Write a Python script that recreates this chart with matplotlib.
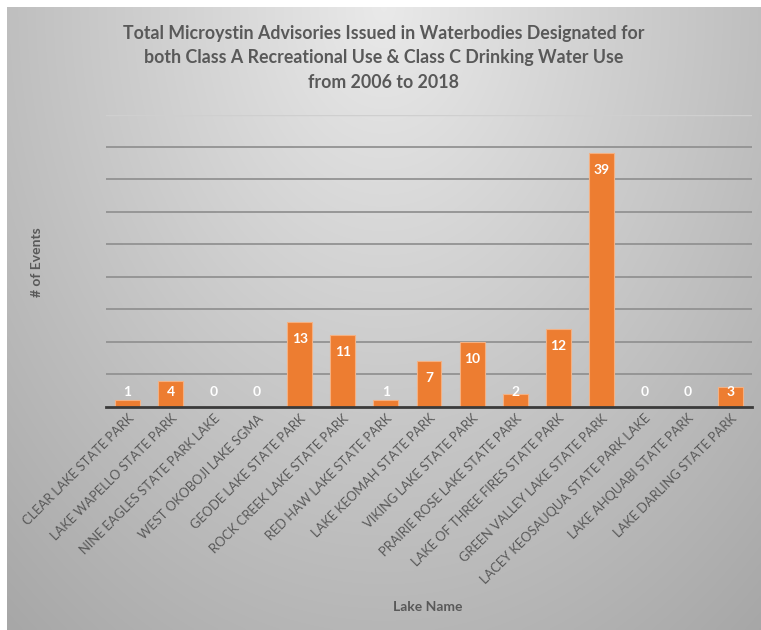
import numpy as np
import matplotlib
matplotlib.use("Agg")
import matplotlib.pyplot as plt

lakes = ["CLEAR LAKE STATE PARK", "LAKE WAPELLO STATE PARK", "NINE EAGLES STATE PARK LAKE",
         "WEST OKOBOJI LAKE SGMA", "GEODE LAKE STATE PARK", "ROCK CREEK LAKE STATE PARK",
         "RED HAW LAKE STATE PARK", "LAKE KEOMAH STATE PARK", "VIKING LAKE STATE PARK",
         "PRAIRIE ROSE LAKE STATE PARK", "LAKE OF THREE FIRES STATE PARK",
         "GREEN VALLEY LAKE STATE PARK", "LACEY KEOSAUQUA STATE PARK LAKE",
         "LAKE AHQUABI STATE PARK", "LAKE DARLING STATE PARK"]
events = [1, 4, 0, 0, 13, 11, 1, 7, 10, 2, 12, 39, 0, 0, 3]

title = ("Total Microystin Advisories Issued in Waterbodies Designated for\n"
         "both Class A Recreational Use & Class C Drinking Water Use\n"
         "from 2006 to 2018")

plt.rcParams['font.family'] = ['Lato', 'DejaVu Sans']
W, H = 761, 630
fig = plt.figure(figsize=(W/100, H/100), dpi=100)
fig.patch.set_facecolor('white')

# gradient background panel
bg = fig.add_axes([7/W, 0, 1-7/W, 1-7/H])
ny, nx = 300, 360
yy, xx = np.mgrid[0:1:ny*1j, 0:1:nx*1j]
d = np.sqrt(((xx-0.5)/0.6)**2 + (yy/1.0)**2)
v = np.clip(0.915 - 0.2*d, 0, 1)
img = np.dstack([v, v, v])
bg.imshow(img, aspect='auto', extent=[0, 1, 1, 0], interpolation='bilinear')
bg.axis('off')

ax = fig.add_axes([106/W, 1-406.7/H, 646/W, (406.7-114.5)/H])
ax.patch.set_alpha(0)
x = np.arange(len(lakes))
ax.bar(x, events, width=0.58, color='#ED7D31', edgecolor='#F4B183', linewidth=0.8, zorder=3)
ax.set_xlim(-0.5, len(lakes)-0.5)
ax.set_ylim(0, 45)
ax.set_yticks(np.arange(5, 41, 5))
ax.yaxis.grid(True, color='#929292', linewidth=1.3, zorder=0)
ax.axhline(45, color='#cfcfcf', linewidth=1.0, zorder=0)
ax.tick_params(axis='y', length=0, labelleft=False)
ax.tick_params(axis='x', length=0, pad=4)
for s in ['top', 'right', 'left']:
    ax.spines[s].set_visible(False)
ax.spines['bottom'].set_color('#3a3a3a')
ax.spines['bottom'].set_linewidth(2)
ax.spines['bottom'].set_zorder(4)
ax.set_xticks(x)
ax.set_xticklabels(lakes, rotation=45, ha='right', va='top', rotation_mode='anchor',
                   fontsize=9.3, color='#595959')

for xi, v_ in zip(x, events):
    ax.text(xi, max(v_ - 2.6, 2.3), str(v_), ha='center', va='center', color='white',
            fontsize=10, fontweight='bold', zorder=5)

fig.text(384/W, 1-58/H, title, ha='center', va='center', fontsize=12.8, fontweight='bold',
         color='#595959', linespacing=1.55)
fig.text(37/W, 1-262/H, '# of Events', rotation=90, ha='center', va='center',
         fontsize=10, fontweight='bold', color='#595959')
fig.text(428/W, 1-607/H, 'Lake Name', ha='center', va='center',
         fontsize=10, fontweight='bold', color='#595959')

fig.savefig('out.png', dpi=100)
